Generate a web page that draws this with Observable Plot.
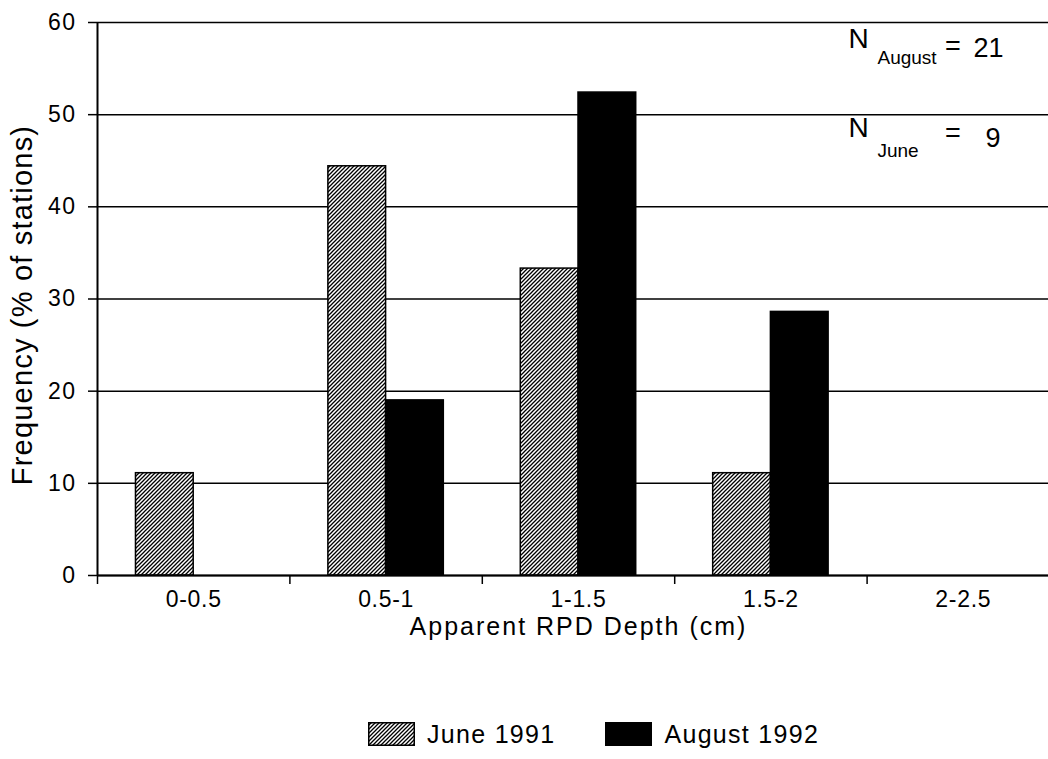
<!DOCTYPE html>
<html>
<head>
<meta charset="utf-8">
<script src="https://cdn.jsdelivr.net/npm/d3@7"></script>
<script src="https://cdn.jsdelivr.net/npm/@observablehq/plot@0.6"></script>
<style>
  html, body { margin: 0; padding: 0; background: #fff; overflow: hidden; width: 1048px; height: 759px; }
  #chart { position: relative; width: 1048px; height: 759px; overflow: hidden; }
  #chart > svg { display: block; max-width: none !important; width: 1062px !important; height: 645px !important; }
  g[aria-label="x-axis tick label"] text { letter-spacing: 0.7px; }
  g[aria-label="y-axis tick label"] text { letter-spacing: 1.5px; }
  .xtitle text { letter-spacing: 2px; }
  .ytitle text { letter-spacing: 1.2px; }
  .legend { position: absolute; left: 368px; top: 722px; display: flex; align-items: center;
            font-family: "Liberation Sans", Arial, sans-serif; font-size: 25px; letter-spacing: 1.3px; color: #000; }
  .legend .sw { width: 47px; height: 24px; display: block; }
  .legend .lab { margin-left: 12px; margin-right: 50px; line-height: 24px; }
</style>
</head>
<body>
<div id="chart"></div>
<script>
// ---- data ----
const categories = ["0-0.5", "0.5-1", "1-1.5", "1.5-2", "2-2.5"];
const seriesNames = ["June 1991", "August 1992"];
const june = [11.1, 44.4, 33.3, 11.1, 0];
const august = [0, 19.0, 52.4, 28.6, 0];
const yTicks = [0, 10, 20, 30, 40, 50, 60];
const xTitle = "Apparent RPD Depth (cm)";
const yTitle = "Frequency (% of stations)";

// layout fractions of each category slot
const barStart = 0.2, barWidth = 0.3;

const table = [];
categories.forEach((c, i) => {
  table.push({cat: c, i, series: seriesNames[0], s: 0, value: june[i]});
  table.push({cat: c, i, series: seriesNames[1], s: 1, value: august[i]});
});
const shown = table.filter(d => d.value > 0);

const font = "Liberation Sans, Arial, sans-serif";

const svg = Plot.plot({
  width: 1062,
  height: 645,
  marginLeft: 97,
  marginRight: 3,
  marginTop: 22,
  marginBottom: 70,
  x: {domain: [0, categories.length], axis: null},
  y: {domain: [0, 60], axis: null},
  style: {fontFamily: font, fontSize: "23px", color: "black", background: "white", overflow: "visible", maxWidth: "none"},
  marks: [
    Plot.ruleY(yTicks, {stroke: "black", strokeWidth: 1.5}),
    Plot.rectY(shown.filter(d => d.s === 0), {
      x1: d => d.i + barStart, x2: d => d.i + barStart + barWidth,
      y1: 0, y2: "value", fill: "url(#hatch)", stroke: "black", strokeWidth: 1.5
    }),
    Plot.rectY(shown.filter(d => d.s === 1), {
      x1: d => d.i + barStart + barWidth, x2: d => d.i + barStart + 2 * barWidth,
      y1: 0, y2: "value", fill: "black", stroke: "black", strokeWidth: 1.5
    }),
    Plot.ruleY([0], {stroke: "black", strokeWidth: 1.8}),
    Plot.ruleX([0], {stroke: "black", strokeWidth: 2}),
    Plot.axisY({ticks: yTicks, tickSize: 9, tickPadding: 12, label: null, fontSize: 23, strokeWidth: 1.5}),
    Plot.axisX({ticks: d3.range(0, categories.length + 1), tickSize: 9, tickFormat: () => null, label: null, strokeWidth: 1.5}),
    Plot.axisX({ticks: categories.map((c, i) => i + 0.5), tickSize: 0, tickPadding: 15,
      tickFormat: v => categories[Math.floor(v)], label: null, fontSize: 23}),
    Plot.text([xTitle], {frameAnchor: "bottom", dy: 42, lineAnchor: "top", fontSize: 25, className: "xtitle"}),
    Plot.text([yTitle], {frameAnchor: "left", rotate: -90, dx: -75, dy: 6, textAnchor: "middle", lineAnchor: "middle", fontSize: 29, className: "ytitle"}),
    // N annotations
    Plot.text(["N"], {x: 3.903, y: 58.26, textAnchor: "start", lineAnchor: "middle", fontSize: 28}),
    Plot.text(["August"], {x: 4.054, y: 56.2, textAnchor: "start", lineAnchor: "middle", fontSize: 19}),
    Plot.text(["="], {x: 4.405, y: 57.4, textAnchor: "start", lineAnchor: "middle", fontSize: 27}),
    Plot.text(["21"], {x: 4.553, y: 57.18, textAnchor: "start", lineAnchor: "middle", fontSize: 27}),
    Plot.text(["N"], {x: 3.903, y: 48.5, textAnchor: "start", lineAnchor: "middle", fontSize: 28}),
    Plot.text(["June"], {x: 4.054, y: 46.1, textAnchor: "start", lineAnchor: "middle", fontSize: 19}),
    Plot.text(["="], {x: 4.405, y: 48.0, textAnchor: "start", lineAnchor: "middle", fontSize: 27}),
    Plot.text(["9"], {x: 4.615, y: 47.4, textAnchor: "start", lineAnchor: "middle", fontSize: 27})
  ]
});

// hatch pattern
function addHatch(el, id) {
  const defs = d3.select(el).insert("defs", ":first-child");
  const p = defs.append("pattern").attr("id", id).attr("patternUnits", "userSpaceOnUse")
    .attr("width", 4).attr("height", 4);
  p.append("rect").attr("width", 4).attr("height", 4).attr("fill", "white");
  p.append("path").attr("d", "M-1,1 L1,-1 M0,4 L4,0 M3,5 L5,3")
    .attr("stroke", "black").attr("stroke-width", 1.3);
}
addHatch(svg, "hatch");
svg.style.maxWidth = "none";

const chart = document.getElementById("chart");
chart.appendChild(svg);

// legend
const legend = document.createElement("div");
legend.className = "legend";
const fills = ["url(#hatchL)", "black"];
seriesNames.forEach((name, k) => {
  const sw = d3.create("svg").attr("class", "sw").attr("width", 47).attr("height", 24);
  if (k === 0) addHatch(sw.node(), "hatchL");
  sw.append("rect").attr("x", 0.75).attr("y", 0.75).attr("width", 45.5).attr("height", 22.5)
    .attr("fill", fills[k]).attr("stroke", "black").attr("stroke-width", 1.5);
  legend.appendChild(sw.node());
  const lab = document.createElement("span");
  lab.className = "lab";
  lab.textContent = name;
  legend.appendChild(lab);
});
chart.appendChild(legend);
</script>
</body>
</html>
